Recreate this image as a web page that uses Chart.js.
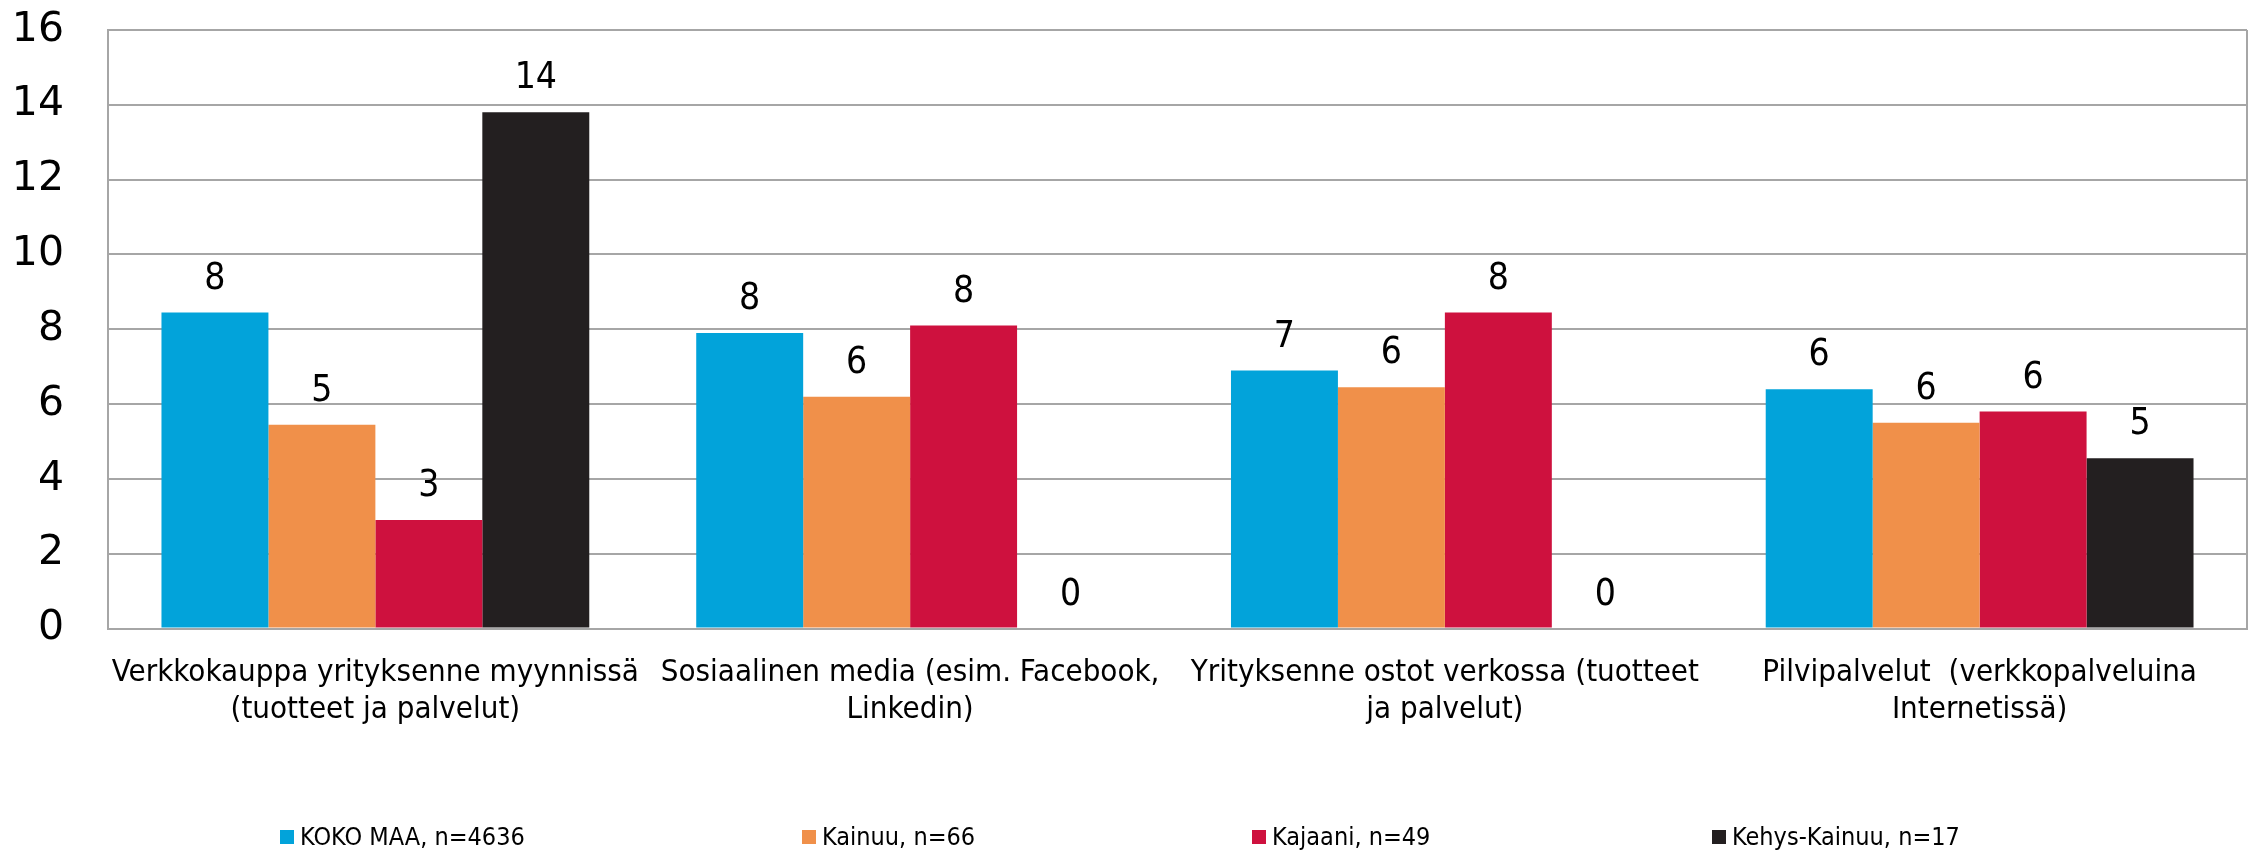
<!DOCTYPE html>
<html>
<head>
<meta charset="utf-8">
<script src="https://cdn.jsdelivr.net/npm/chart.js@4"></script>
<style>
  html, body { margin: 0; padding: 0; background: #fff; }
  #wrap { width: 2255px; height: 850px; }
</style>
</head>
<body>
<div id="wrap"><canvas id="canvas"></canvas></div>
<script>
// kategoriat (x-akseli)
var categories = [
    ["Verkkokauppa yrityksenne myynnissä", "(tuotteet ja palvelut)"],
    ["Sosiaalinen media (esim. Facebook,", "Linkedin)"],
    ["Yrityksenne ostot verkossa (tuotteet", "ja palvelut)"],
    ["Pilvipalvelut  (verkkopalveluina", "Internetissä)"]
];

// sarjat
var seriesNames = ["KOKO MAA, n=4636", "Kainuu, n=66", "Kajaani, n=49", "Kehys-Kainuu, n=17"];
var kokoMaa = [8.45, 7.9, 6.9, 6.4];
var kainuu = [5.45, 6.2, 6.45, 5.5];
var kajaani = [2.9, 8.1, 8.45, 5.8];
var kehysKainuu = [13.8, 0, 0, 4.55];

// y-akselin asteikko
var yTicks = [0, 2, 4, 6, 8, 10, 12, 14, 16];

var colors = ["#02A3DA", "#F0904A", "#CE113E", "#231F20"];
var FONT = "'DejaVu Sans Condensed', 'DejaVu Sans', sans-serif";

// selitteen sarakkeiden alkukohdat (px)
var legendX = [280, 802, 1252, 1712];

// arvot pylväiden päälle
var valueLabels = {
    id: 'valueLabels',
    afterDatasetsDraw: function (chart) {
        var ctx = chart.ctx;
        ctx.save();
        ctx.font = "37px " + FONT;
        ctx.fillStyle = "#000";
        ctx.textAlign = "center";
        ctx.textBaseline = "bottom";
        chart.data.datasets.forEach(function (ds, i) {
            chart.getDatasetMeta(i).data.forEach(function (bar, j) {
                ctx.fillText(Math.round(ds.data[j]), bar.x, bar.y - 15);
            });
        });
        ctx.restore();
    }
};

// oikea reunaviiva + selite alas
var frameAndLegend = {
    id: 'frameAndLegend',
    afterDraw: function (chart) {
        var ctx = chart.ctx, a = chart.chartArea;
        ctx.save();
        ctx.strokeStyle = "#A6A6A6";
        ctx.lineWidth = 2;
        ctx.beginPath();
        ctx.moveTo(a.right, a.top);
        ctx.lineTo(a.right, a.bottom);
        ctx.stroke();

        ctx.font = "25px " + FONT;
        ctx.textBaseline = "middle";
        ctx.textAlign = "left";
        var y = 837, box = 14;
        chart.data.datasets.forEach(function (ds, i) {
            var x = legendX[i];
            ctx.fillStyle = ds.backgroundColor;
            ctx.fillRect(x, y - box / 2, box, box);
            ctx.fillStyle = "#000";
            ctx.fillText(ds.label, x + box + 6, y + 1);
        });
        ctx.restore();
    }
};

var ctx = document.getElementById('canvas');
new Chart(ctx, {
    type: 'bar',
    data: {
        labels: categories,
        datasets: [
            { label: seriesNames[0], data: kokoMaa, backgroundColor: colors[0] },
            { label: seriesNames[1], data: kainuu, backgroundColor: colors[1] },
            { label: seriesNames[2], data: kajaani, backgroundColor: colors[2] },
            { label: seriesNames[3], data: kehysKainuu, backgroundColor: colors[3] }
        ]
    },
    options: {
        responsive: true,
        maintainAspectRatio: false,
        animation: false,
        layout: { padding: { left: 0, right: 8, top: 30, bottom: 103 } },
        plugins: {
            legend: { display: false },
            tooltip: { enabled: false }
        },
        datasets: {
            bar: { categoryPercentage: 0.8, barPercentage: 1.0 }
        },
        scales: {
            x: {
                grid: { display: false },
                border: { color: "#A6A6A6", width: 2 },
                afterFit: function (axis) {
                    axis.paddingLeft = 0;
                    axis.paddingRight = 0;
                },
                ticks: {
                    color: "#000",
                    font: { family: FONT, size: 31 },
                    maxRotation: 0,
                    autoSkip: false,
                    padding: 18
                }
            },
            y: {
                min: 0,
                max: 16,
                afterBuildTicks: function (axis) {
                    axis.ticks = yTicks.map(function (v) { return { value: v }; });
                },
                afterFit: function (axis) {
                    axis.width = 108;
                    axis.paddingTop = 0;
                    axis.paddingBottom = 0;
                },
                grid: { color: "#A6A6A6", lineWidth: 2, drawTicks: false },
                border: { color: "#A6A6A6", width: 2 },
                ticks: {
                    color: "#000",
                    font: { family: "'DejaVu Sans', sans-serif", size: 41 },
                    padding: 44
                }
            }
        }
    },
    plugins: [valueLabels, frameAndLegend]
});
</script>
</body>
</html>
